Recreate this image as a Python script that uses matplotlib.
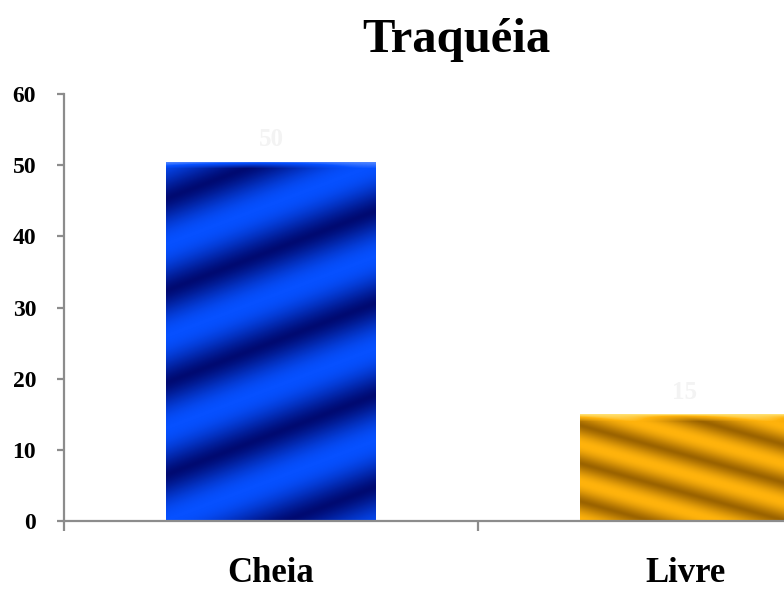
import numpy as np
import matplotlib
matplotlib.use("Agg")
import matplotlib.pyplot as plt
from matplotlib.colors import LinearSegmentedColormap

# data
categories = ["Cheia", "Livre"]
values = [50.5, 15]
value_labels = ["50", "15"]
title = "Traqu\u00e9ia"
yticks = [0, 10, 20, 30, 40, 50, 60]

# look of each bar: (dark, bright, bevel), stripe slope, stripe period in px
bar_styles = [
    (("#000a72", "#0650ff", "#5a8cff"), 0.38, 92.0),
    (("#9c6400", "#ffb30c", "#ffe070"), -0.28, 38.0),
]

plt.rcParams["font.family"] = ["Liberation Serif", "DejaVu Serif"]
plt.rcParams["font.weight"] = "bold"

fig = plt.figure(figsize=(7.84, 5.90), dpi=100)
ax = fig.add_axes([64 / 784, 69 / 590, 828 / 784, 427 / 590])

x = np.arange(len(categories))
bars = ax.bar(x, values, width=0.505, color="none", edgecolor="none", zorder=2)

ax.set_xlim(-0.5, len(categories) - 0.5)
ax.set_ylim(0, 60)
fig.canvas.draw()

for bar, (cols, slope, period) in zip(bars, bar_styles):
    x0, y0 = bar.get_x(), bar.get_y()
    x1, y1 = x0 + bar.get_width(), y0 + bar.get_height()
    (px0, py0), (px1, py1) = ax.transData.transform([(x0, y0), (x1, y1)])
    nx, ny = int(px1 - px0) + 1, int(py1 - py0) + 1
    X, Y = np.meshgrid(np.arange(nx), np.arange(ny)[::-1])
    phase = (Y - slope * X) / period
    img = (0.5 + 0.5 * np.cos(2 * np.pi * phase)) ** 0.7
    img = img * 0.8
    # lighter bevel along the top edge
    top = np.clip(1 - (ny - 1 - Y) / 7.0, 0, 1)
    img = img * (1 - top) + 1.0 * top
    cmap = LinearSegmentedColormap.from_list(
        "g", [(0, cols[0]), (0.8, cols[1]), (1.0, cols[2])])
    im = ax.imshow(img, cmap=cmap, vmin=0, vmax=1,
                   extent=[x0, x1, y0, y1], aspect="auto", origin="upper",
                   zorder=2, interpolation="bilinear")
    im.set_clip_path(bar)

ax.set_xlim(-0.5, len(categories) - 0.5)
ax.set_ylim(0, 60)

for xi, v, lab in zip(x, values, value_labels):
    ax.text(xi, v + 1.5, lab, ha="center", va="bottom", fontsize=18,
            color="#f3f3f3", fontweight="bold")

for side in ["top", "right"]:
    ax.spines[side].set_visible(False)
for side in ["left", "bottom"]:
    ax.spines[side].set_color("#8c8c8c")
    ax.spines[side].set_linewidth(1.6)

ax.set_yticks(yticks)
ax.set_yticklabels([str(t) for t in yticks], fontsize=17, fontweight="bold")
ax.tick_params(axis="y", length=5, width=1.6, color="#8c8c8c", pad=15)

ax.set_xticks(x)
ax.set_xticklabels(categories, fontsize=25, fontweight="bold")
ax.set_xticks(np.arange(len(categories) + 1) - 0.5, minor=True)
ax.tick_params(axis="x", which="major", length=0, pad=26)
ax.tick_params(axis="x", which="minor", length=7, width=1.6, color="#8c8c8c")

fig.text(456 / 784, 550 / 590, title, ha="center", va="center",
         fontsize=35, fontweight="bold")

fig.savefig("out.png", dpi=100, facecolor="white")
